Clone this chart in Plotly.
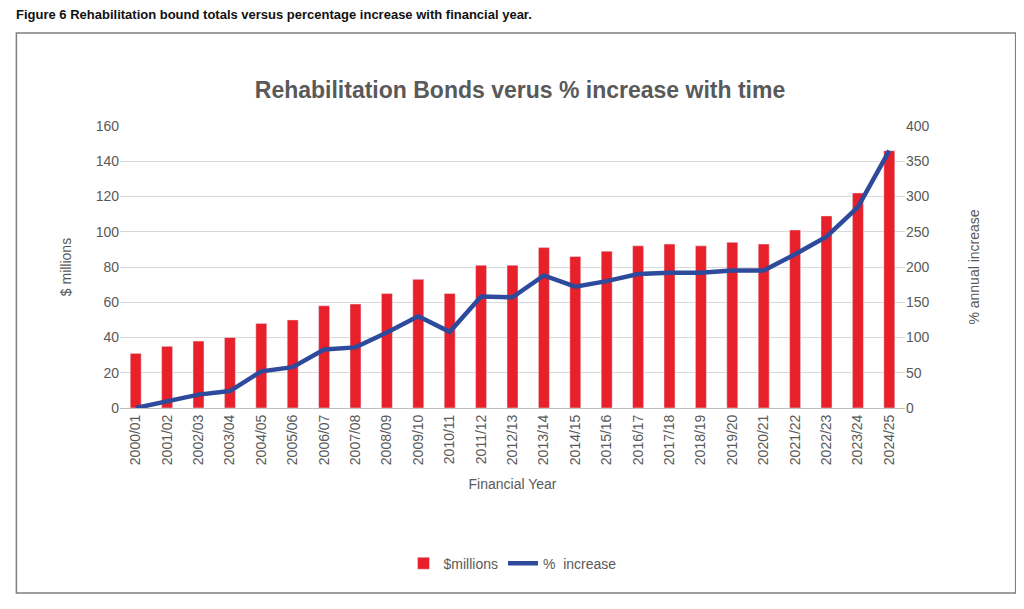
import plotly.graph_objects as go

years = ["2000/01", "2001/02", "2002/03", "2003/04", "2004/05", "2005/06", "2006/07",
         "2007/08", "2008/09", "2009/10", "2010/11", "2011/12", "2012/13", "2013/14",
         "2014/15", "2015/16", "2016/17", "2017/18", "2018/19", "2019/20", "2020/21",
         "2021/22", "2022/23", "2023/24", "2024/25"]
millions = [31, 35, 38, 40, 48, 50, 58, 59, 65, 73, 65, 81, 81, 91, 86, 89, 92, 93, 92,
            94, 93, 101, 109, 122, 146]
pct_increase = [0, 10, 19, 24, 52, 58, 83, 86, 107, 130, 108, 158, 157, 188, 172, 180,
                190, 192, 192, 195, 195, 218, 243, 285, 365]

fig = go.Figure()
fig.add_trace(go.Bar(x=years, y=millions, name="$millions", marker_color="#e8202a",
                     width=0.35, yaxis="y1"))
fig.add_trace(go.Scatter(x=years, y=pct_increase, name="%  increase", mode="lines",
                         line=dict(color="#2e4a9c", width=4.5), yaxis="y2"))

tick_font = dict(family="Liberation Sans", size=14, color="#595959")
fig.update_layout(
    width=1024, height=609,
    margin=dict(l=112, r=127, t=118, b=209),
    paper_bgcolor="white", plot_bgcolor="white",
    font=tick_font,
    title=dict(text="<b>Rehabilitation Bonds verus % increase with time</b>",
               x=0.5, xanchor="center", y=0.865, yanchor="middle",
               font=dict(family="Liberation Sans", size=23, color="#595959")),
    xaxis=dict(tickangle=-90, tickfont=tick_font, showline=True, linecolor="#bfbfbf",
               title=dict(text="Financial Year", font=tick_font, standoff=14)),
    yaxis=dict(range=[0, 160], dtick=20, gridcolor="#d9d9d9", zeroline=False,
               tickfont=tick_font,
               title=dict(text="$ millions", font=tick_font, standoff=20)),
    yaxis2=dict(range=[0, 400], dtick=50, overlaying="y", side="right", showgrid=False,
                zeroline=False, tickfont=tick_font,
                title=dict(text="% annual increase", font=tick_font, standoff=40)),
    legend=dict(orientation="h", x=0.5, xanchor="center", y=-0.552, yanchor="middle",
                font=tick_font),
    bargap=0.5,
)

fig.add_shape(type="rect", xref="paper", yref="paper", x0=-0.132, x1=1.141,
              y0=-0.656, y1=1.330, line=dict(color="#7f7f7f", width=1.5))
fig.add_annotation(text="<b>Figure 6 Rehabilitation bound totals versus percentage increase with financial year.</b>",
                   xref="paper", yref="paper", x=-0.135, y=1.395, xanchor="left",
                   yanchor="middle", showarrow=False,
                   font=dict(family="Liberation Sans", size=13, color="#111111"))

fig.write_html("out.html")
